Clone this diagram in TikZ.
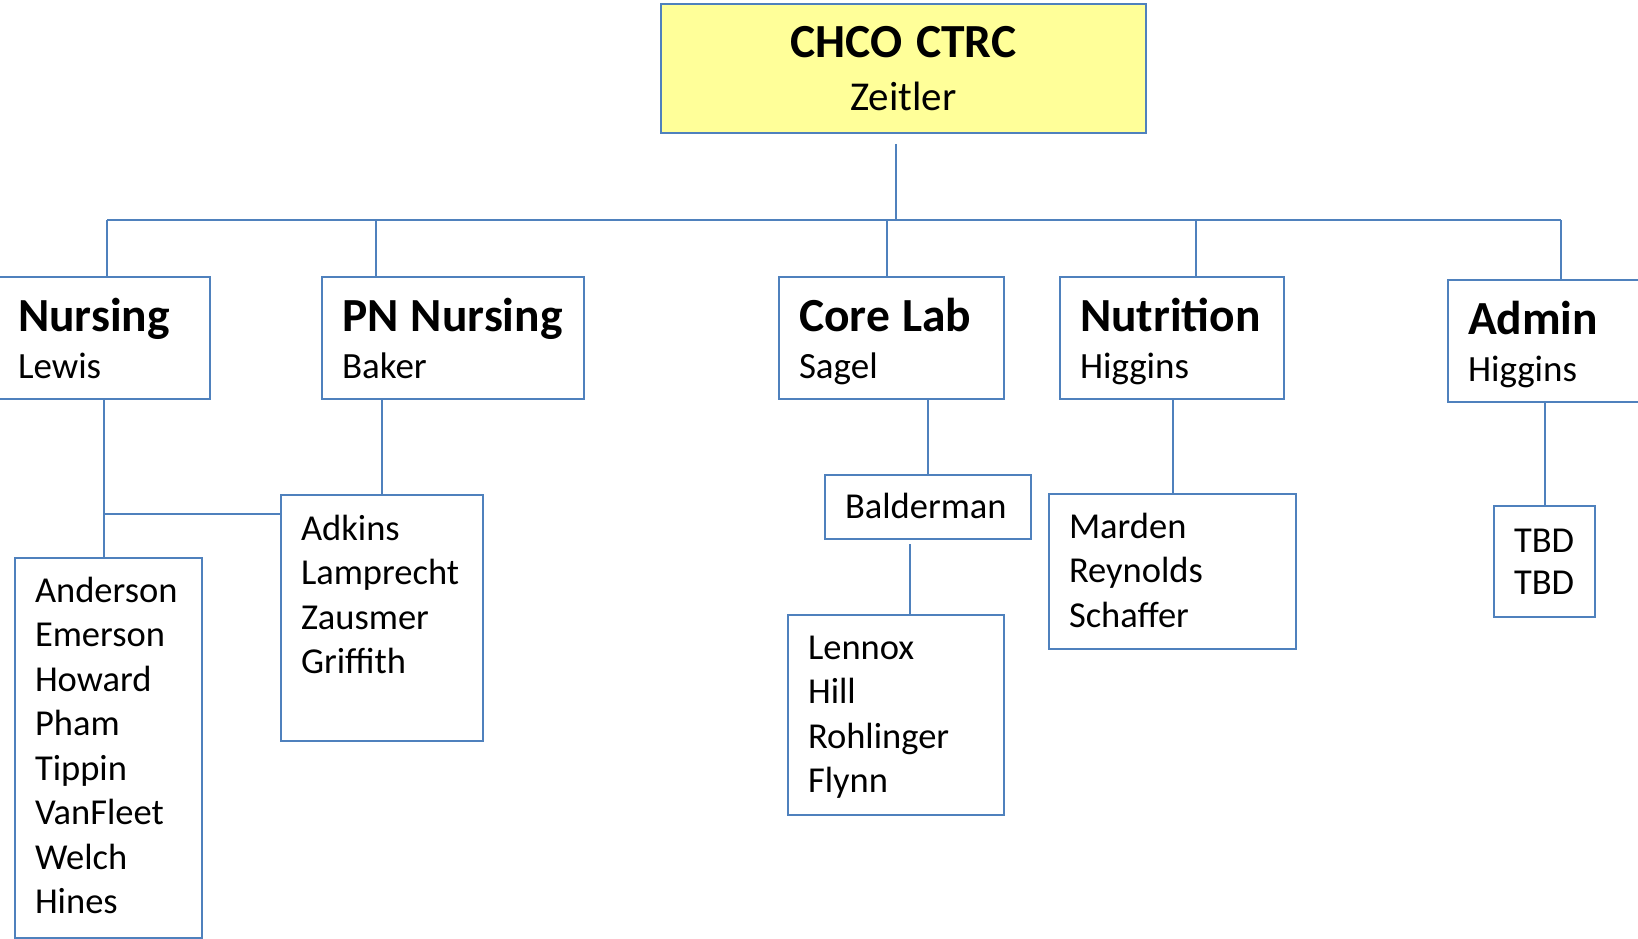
\documentclass[tikz,border=0pt]{standalone}
\usepackage{fontspec}
\setmainfont{Carlito}

\definecolor{orgblue}{HTML}{4F81BD}
\definecolor{orgyellow}{HTML}{FFFF99}
\newcommand{\headfont}{\fontsize{47.5}{47}\selectfont\bfseries}
\newcommand{\namefont}{\fontsize{37}{47}\selectfont\mdseries}
\newcommand{\listfont}{\fontsize{36.5}{44.5}\selectfont}

\begin{document}
\begin{tikzpicture}[x=1pt, y=-1pt,
  box/.style={draw=orgblue, line width=2pt, anchor=north west, inner xsep=20pt, inner ysep=0pt, align=left},
  dept/.style={box, text height=54pt, text depth=68pt, font=\namefont},
  staff/.style={box, font=\listfont},
  link/.style={draw=orgblue, line width=2pt}]
\useasboundingbox (0,0) rectangle (1638,939);

% head
\node[box, fill=orgyellow, align=center, text width=445pt, text height=54pt, text depth=75pt,
  font=\fontsize{41}{53}\selectfont] (ctrc) at (660,3)
  {{\headfont CHCO CTRC}\\ Zeitler};

% departments
\node[dept, text width=172pt] (nurs) at (-3,276) {{\headfont Nursing}\\ Lewis};
\node[dept, text width=222pt] (pn) at (321,276) {{\headfont PN Nursing}\\ Baker};
\node[dept, text width=185pt] (core) at (778,276) {{\headfont Core Lab}\\ Sagel};
\node[dept, text width=184pt] (nutr) at (1059,276) {{\headfont Nutrition}\\ Higgins};
\node[dept, text width=190pt] (admin) at (1447,279) {{\headfont Admin}\\ Higgins};

% staff
\node[staff, text width=147pt, text height=44pt, text depth=336pt] (nlist) at (14,557)
  {Anderson\\Emerson\\Howard\\Pham\\Tippin\\VanFleet\\Welch\\Hines};
\node[staff, text width=162pt, text height=45pt, text depth=201pt] (pnlist) at (280,494)
  {Adkins\\Lamprecht\\Zausmer\\Griffith};
\node[staff, text width=166pt, text height=43pt, text depth=21pt] (bald) at (824,474) {Balderman};
\node[staff, text width=176pt, text height=44pt, text depth=156pt] (lab) at (787,614)
  {Lennox\\Hill\\Rohlinger\\Flynn};
\node[staff, text width=207pt, text height=44pt, text depth=111pt] (nutlist) at (1048,493)
  {Marden\\Reynolds\\Schaffer};
\node[staff, text width=61pt, text height=46pt, text depth=65pt, font=\fontsize{36.5}{42}\selectfont] (tbd) at (1493,505)
  {TBD\\TBD};

% bar
\coordinate (hub) at (896,220);
\coordinate (d1) at (107,220);
\coordinate (d2) at (376,220);
\coordinate (d3) at (887,220);
\coordinate (d4) at (1196,220);
\coordinate (d5) at (1561,220);
\draw[link] (d1) -- (d5);
\draw[link] ([yshift=-10pt]ctrc.south -| hub) -- (hub);
\foreach \d/\n in {d1/nurs, d2/pn, d3/core, d4/nutr, d5/admin}
  \draw[link] (\d) -- (\d |- \n.north);

% below departments
\draw[link] (nurs.south) -- (nurs.south |- nlist.north);
\coordinate (jn) at ([yshift=-20pt]pnlist.north west);
\draw[link] (jn) -- (jn -| nurs.south);
\draw[link] (pnlist.north) -- (pnlist.north |- pn.south);
\draw[link] (bald.north) -- (bald.north |- core.south);
\draw[link] ([xshift=-18pt,yshift=-4pt]bald.south) -- ([xshift=-18pt]bald.south |- lab.north);
\draw[link] (nutlist.north) -- (nutlist.north |- nutr.south);
\draw[link] (tbd.north) -- (tbd.north |- admin.south);
\end{tikzpicture}
\end{document}
